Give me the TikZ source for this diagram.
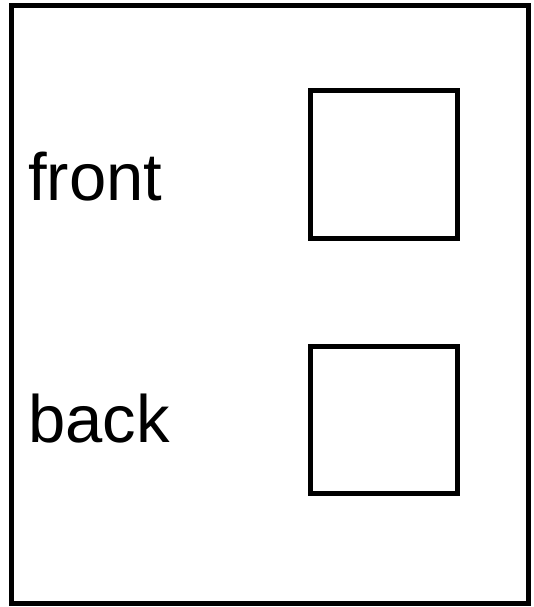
\documentclass[tikz,border=0pt]{standalone}
\usepackage{fontspec}
\setmainfont{Liberation Sans}
\usetikzlibrary{positioning}
\tikzset{panel/.style={draw, line width=5pt, fill=white},
  slot/.style={draw, line width=5pt, minimum size=147pt, inner sep=0pt},
  side/.style={anchor=base west, inner sep=0pt, font=\fontsize{67}{80}\selectfont}}

\begin{document}
\begin{tikzpicture}[x=1pt,y=-1pt]
\useasboundingbox (0,0) rectangle (533,607);
\draw[panel] (11,6) rectangle (528,603);
% the two faces
\node[side] (front) at (28,200) {front};
\node[side] (back) at (28,442) {back};
\node[slot] (frontbox) at (384,164.5) {};
\node[slot] (backbox) at (384,419.5) {};
\end{tikzpicture}
\end{document}
